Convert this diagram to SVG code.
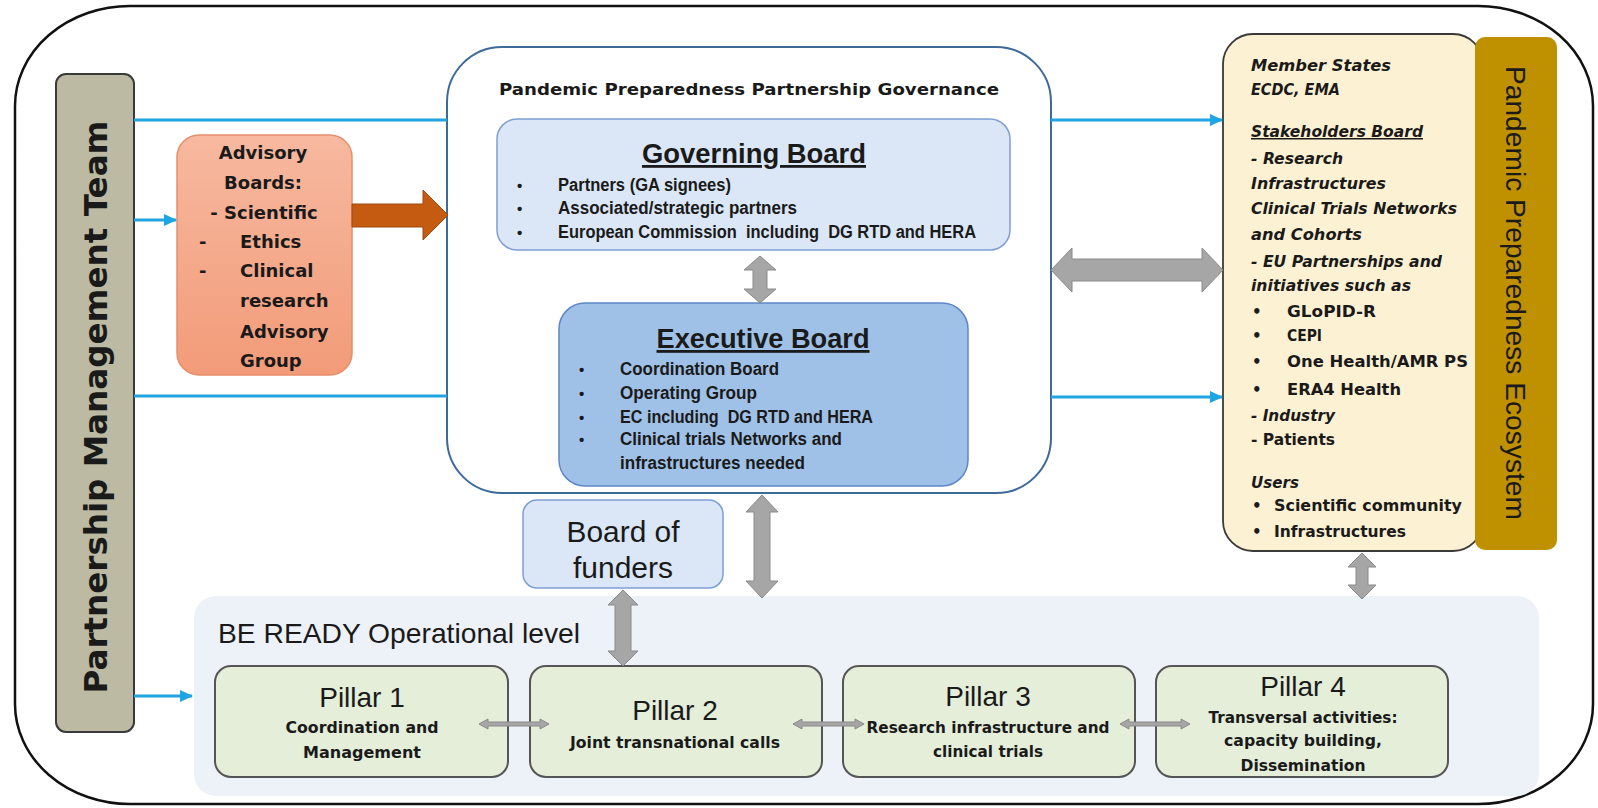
<svg xmlns="http://www.w3.org/2000/svg" width="1598" height="808" viewBox="0 0 1598 808">
<defs>
<style>
.t{font-family:"Liberation Sans",Arial,sans-serif;fill:#1a1a1a}
.d{font-family:"DejaVu Sans",Verdana,sans-serif;font-weight:bold;fill:#1a1a1a}
.b{font-weight:bold}
.i{font-style:italic}
.u{text-decoration:underline}
.blue{stroke:#1ea5e2;stroke-width:3;fill:none}
.gray{fill:#a6a6a6;stroke:#8a8a8a;stroke-width:1}
.pil{fill:#e4eed9;stroke:#555;stroke-width:2}
</style>
<marker id="ah" markerUnits="userSpaceOnUse" markerWidth="13" markerHeight="12" refX="12" refY="6" orient="auto">
<path d="M0,0 L13,6 L0,12 z" fill="#1ea5e2"/>
</marker>
<linearGradient id="sal" x1="0" y1="0" x2="0" y2="1">
<stop offset="0" stop-color="#f7b9a0"/>
<stop offset="1" stop-color="#f29b79"/>
</linearGradient>
</defs>
<rect width="1598" height="808" fill="#ffffff"/>
<g id="frame">
<rect x="15" y="6" width="1578" height="798" rx="115" ry="100" fill="none" stroke="#111" stroke-width="2.5"/>
</g>
<g id="be-ready">
<rect x="194" y="596" width="1345" height="200" rx="22" fill="#edf1f8"/>
<text class="t" x="218" y="643" font-size="28" textLength="362" lengthAdjust="spacingAndGlyphs">BE READY Operational level</text>
</g>
<g id="pmt">
<rect x="56" y="74" width="78" height="658" rx="10" fill="#bcbaa2" stroke="#3a3a3a" stroke-width="2"/>
<text class="d" transform="translate(107,407) rotate(-90)" text-anchor="middle" font-size="32" textLength="573" lengthAdjust="spacingAndGlyphs" fill="#222">Partnership Management Team</text>
</g>
<g id="advisory">
<rect x="177" y="135" width="175" height="240" rx="22" fill="url(#sal)" stroke="#e88f6c" stroke-width="1.5"/>
<g class="d" font-size="18">
<text x="263" y="159" text-anchor="middle">Advisory</text>
<text x="263" y="189" text-anchor="middle">Boards:</text>
<text x="264" y="219" text-anchor="middle">- Scientific</text>
<text x="199" y="248">-</text><text x="240" y="248">Ethics</text>
<text x="199" y="277">-</text><text x="240" y="277">Clinical</text>
<text x="240" y="307">research</text>
<text x="240" y="338">Advisory</text>
<text x="240" y="367">Group</text>
</g>
</g>
<g id="governance">
<rect x="447" y="47" width="604" height="446" rx="55" fill="#fff" stroke="#3d6a98" stroke-width="2"/>
<text class="d" x="749" y="95" text-anchor="middle" font-size="16" textLength="500" lengthAdjust="spacingAndGlyphs">Pandemic Preparedness Partnership Governance</text>
</g>
<g id="governing-board">
<rect x="497" y="119" width="513" height="131" rx="20" fill="#dbe7f6" stroke="#7f9fd4" stroke-width="1.5"/>
<text class="t b u" x="754" y="163" text-anchor="middle" font-size="28" textLength="224" lengthAdjust="spacingAndGlyphs">Governing Board</text>
<g class="t b" font-size="18">
<text x="517" y="191" font-size="15">•</text><text x="558" y="191" textLength="173" lengthAdjust="spacingAndGlyphs">Partners (GA signees)</text>
<text x="517" y="214" font-size="15">•</text><text x="558" y="214" textLength="239" lengthAdjust="spacingAndGlyphs">Associated/strategic partners</text>
<text x="517" y="238" font-size="15">•</text><text x="558" y="238" xml:space="preserve" textLength="418" lengthAdjust="spacingAndGlyphs">European Commission  including  DG RTD and HERA</text>
</g>
</g>
<g id="executive-board">
<rect x="559" y="303" width="409" height="183" rx="26" fill="#a0c1e7" stroke="#5f86c6" stroke-width="1.5"/>
<text class="t b u" x="763" y="348" text-anchor="middle" font-size="28" textLength="213" lengthAdjust="spacingAndGlyphs">Executive Board</text>
<g class="t b" font-size="18">
<text x="579" y="375" font-size="15">•</text><text x="620" y="375" textLength="159" lengthAdjust="spacingAndGlyphs">Coordination Board</text>
<text x="579" y="399" font-size="15">•</text><text x="620" y="399" textLength="137" lengthAdjust="spacingAndGlyphs">Operating Group</text>
<text x="579" y="423" font-size="15">•</text><text x="620" y="423" xml:space="preserve" textLength="253" lengthAdjust="spacingAndGlyphs">EC including  DG RTD and HERA</text>
<text x="579" y="445" font-size="15">•</text><text x="620" y="445" textLength="222" lengthAdjust="spacingAndGlyphs">Clinical trials Networks and</text>
<text x="620" y="469" textLength="185" lengthAdjust="spacingAndGlyphs">infrastructures needed</text>
</g>
</g>
<g id="board-of-funders">
<rect x="523" y="500" width="200" height="88" rx="14" fill="#dbe7f6" stroke="#7f9fd4" stroke-width="1.5"/>
<text class="t" x="623" y="542" text-anchor="middle" font-size="29" textLength="113" lengthAdjust="spacingAndGlyphs">Board of</text>
<text class="t" x="623" y="578" text-anchor="middle" font-size="29" textLength="100" lengthAdjust="spacingAndGlyphs">funders</text>
</g>
<g id="ecosystem">
<rect x="1223" y="34" width="260" height="517" rx="30" fill="#fdf1d3" stroke="#3a3a3a" stroke-width="1.8"/>
<g class="d" font-size="15">
<text class="i" x="1251" y="71" textLength="140" lengthAdjust="spacingAndGlyphs">Member States</text>
<text class="i" x="1251" y="95" textLength="89" lengthAdjust="spacingAndGlyphs">ECDC, EMA</text>
<text class="i u" x="1251" y="137" textLength="172" lengthAdjust="spacingAndGlyphs">Stakeholders Board</text>
<text class="i" x="1251" y="164" textLength="92" lengthAdjust="spacingAndGlyphs">- Research</text>
<text class="i" x="1251" y="189" textLength="135" lengthAdjust="spacingAndGlyphs">Infrastructures</text>
<text class="i" x="1251" y="214" textLength="206" lengthAdjust="spacingAndGlyphs">Clinical Trials Networks</text>
<text class="i" x="1251" y="240" textLength="111" lengthAdjust="spacingAndGlyphs">and Cohorts</text>
<text class="i" x="1251" y="267" textLength="191" lengthAdjust="spacingAndGlyphs">- EU Partnerships and</text>
<text class="i" x="1251" y="291" textLength="160" lengthAdjust="spacingAndGlyphs">initiatives such as</text>
<text x="1252" y="317">•</text><text x="1287" y="317" textLength="89" lengthAdjust="spacingAndGlyphs">GLoPID-R</text>
<text x="1252" y="341">•</text><text x="1287" y="341" textLength="35" lengthAdjust="spacingAndGlyphs">CEPI</text>
<text x="1252" y="367">•</text><text x="1287" y="367" textLength="181" lengthAdjust="spacingAndGlyphs">One Health/AMR PS</text>
<text x="1252" y="395">•</text><text x="1287" y="395" textLength="114" lengthAdjust="spacingAndGlyphs">ERA4 Health</text>
<text class="i" x="1251" y="421" textLength="84" lengthAdjust="spacingAndGlyphs">- Industry</text>
<text x="1251" y="445" textLength="84" lengthAdjust="spacingAndGlyphs">- Patients</text>
<text class="i" x="1251" y="488" textLength="48" lengthAdjust="spacingAndGlyphs">Users</text>
<text x="1252" y="511">•</text><text x="1274" y="511" textLength="188" lengthAdjust="spacingAndGlyphs">Scientific community</text>
<text x="1252" y="537">•</text><text x="1274" y="537" textLength="132" lengthAdjust="spacingAndGlyphs">Infrastructures</text>
</g>
</g>
<g id="ecosystem-label">
<rect x="1475" y="37" width="82" height="513" rx="10" fill="#bf9000"/>
<text class="t" transform="translate(1506,293) rotate(90)" text-anchor="middle" font-size="27" textLength="454" lengthAdjust="spacingAndGlyphs" fill="#fbf3dc">Pandemic Preparedness Ecosystem</text>
</g>
<g id="pillar-1">
<rect class="pil" x="215" y="666" width="293" height="111" rx="16"/>
<text class="t" x="362" y="707" text-anchor="middle" font-size="28">Pillar 1</text>
<text class="d" x="362" y="733" text-anchor="middle" font-size="15" textLength="153" lengthAdjust="spacingAndGlyphs">Coordination and</text>
<text class="d" x="362" y="758" text-anchor="middle" font-size="15" textLength="118" lengthAdjust="spacingAndGlyphs">Management</text>
</g>
<g id="pillar-2">
<rect class="pil" x="530" y="666" width="292" height="111" rx="16"/>
<text class="t" x="675" y="720" text-anchor="middle" font-size="28">Pillar 2</text>
<text class="d" x="675" y="748" text-anchor="middle" font-size="15" textLength="210" lengthAdjust="spacingAndGlyphs">Joint transnational calls</text>
</g>
<g id="pillar-3">
<rect class="pil" x="843" y="666" width="292" height="111" rx="16"/>
<text class="t" x="988" y="706" text-anchor="middle" font-size="28">Pillar 3</text>
<text class="d" x="988" y="733" text-anchor="middle" font-size="15" textLength="243" lengthAdjust="spacingAndGlyphs">Research infrastructure and</text>
<text class="d" x="988" y="757" text-anchor="middle" font-size="15" textLength="110" lengthAdjust="spacingAndGlyphs">clinical trials</text>
</g>
<g id="pillar-4">
<rect class="pil" x="1156" y="666" width="292" height="111" rx="16"/>
<text class="t" x="1303" y="696" text-anchor="middle" font-size="28">Pillar 4</text>
<text class="d" x="1303" y="723" text-anchor="middle" font-size="15" textLength="189" lengthAdjust="spacingAndGlyphs">Transversal activities:</text>
<text class="d" x="1303" y="746" text-anchor="middle" font-size="15" textLength="158" lengthAdjust="spacingAndGlyphs">capacity building,</text>
<text class="d" x="1303" y="771" text-anchor="middle" font-size="15" textLength="125" lengthAdjust="spacingAndGlyphs">Dissemination</text>
</g>
<g id="connectors">
<path class="blue" d="M134,120 H447"/>
<path class="blue" d="M134,396 H447"/>
<path class="blue" d="M1051,120 H1222" marker-end="url(#ah)"/>
<path class="blue" d="M1051,397 H1222" marker-end="url(#ah)"/>
<path class="blue" d="M134,220 H176" marker-end="url(#ah)"/>
<path class="blue" d="M134,696 H192" marker-end="url(#ah)"/>
<polygon points="352,204 423,204 423,190 448,215 423,240 423,227 352,227" fill="#c55a11" stroke="#9c4a14" stroke-width="1"/>
<polygon class="gray" points="1051,270 1072,248 1072,259 1202,259 1202,248 1223,270 1202,292 1202,281 1072,281 1072,292"/>
<polygon class="gray" points="760,256 776,270 767,270 767,289 776,289 760,303 744,289 753,289 753,270 744,270"/>
<polygon class="gray" points="762,495 778,512 770,512 770,581 778,581 762,598 746,581 754,581 754,512 746,512"/>
<polygon class="gray" points="623,590 638,605 631,605 631,651 638,651 623,666 608,651 615,651 615,605 608,605"/>
<polygon class="gray" points="1362,553 1376,567 1368,567 1368,585 1376,585 1362,599 1348,585 1356,585 1356,567 1348,567"/>
<polygon class="gray" points="479,724 488,719 488,722 540,722 540,719 549,724 540,729 540,726 488,726 488,729"/>
<polygon class="gray" points="793,724 802,719 802,722 855,722 855,719 864,724 855,729 855,726 802,726 802,729"/>
<polygon class="gray" points="1120,724 1129,719 1129,722 1181,722 1181,719 1190,724 1181,729 1181,726 1129,726 1129,729"/>
</g>
</svg>
